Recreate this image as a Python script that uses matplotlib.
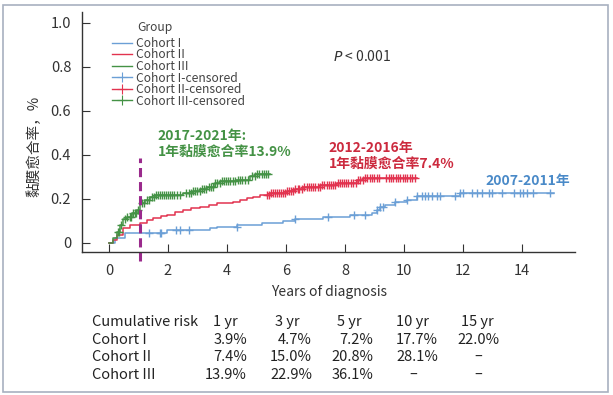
import numpy as np
import matplotlib
matplotlib.use('Agg')
import matplotlib.pyplot as plt
from matplotlib.lines import Line2D
from matplotlib.patches import Rectangle

plt.rcParams['font.family'] = ['Noto Sans CJK SC', 'DejaVu Sans']

# step curves: event times (years) and cumulative healing rate after each step
t_I = [0, 0.2, 0.55, 1.98, 3.43, 3.67, 4.35, 5.2, 5.9, 6.3, 7.26, 8.18, 8.93,
       9.1, 9.2, 9.37, 9.7, 10.1, 10.45, 11.9, 15.1]
v_I = [0, 0.02, 0.045, 0.058, 0.067, 0.073, 0.080, 0.091, 0.099, 0.106, 0.118,
       0.126, 0.135, 0.150, 0.160, 0.172, 0.186, 0.194, 0.212, 0.227, 0.227]

t_II = [0, 0.15, 0.28, 0.48, 0.72, 1.06, 1.3, 1.5, 1.75, 1.98, 2.25, 2.52, 2.8,
        3.1, 3.4, 3.67, 4.21, 4.45, 4.69, 4.9, 5.13, 5.47, 6.04, 6.3, 6.59,
        7.16, 7.74, 8.42, 8.62, 10.45]
v_II = [0, 0.012, 0.035, 0.067, 0.080, 0.091, 0.102, 0.112, 0.119, 0.126, 0.138,
        0.149, 0.156, 0.164, 0.171, 0.179, 0.186, 0.194, 0.202, 0.209, 0.217,
        0.227, 0.236, 0.244, 0.252, 0.262, 0.273, 0.285, 0.293, 0.293]

t_III = [0, 0.15, 0.28, 0.38, 0.48, 0.62, 0.79, 0.96, 1.06, 1.23, 1.4, 1.57,
         2.52, 2.86, 3.1, 3.33, 3.6, 3.77, 4.3, 4.79, 4.96, 5.47]
v_III = [0, 0.021, 0.05, 0.08, 0.108, 0.118, 0.135, 0.149, 0.180, 0.194, 0.209,
         0.217, 0.227, 0.236, 0.245, 0.255, 0.270, 0.280, 0.285, 0.303, 0.312, 0.312]

# censoring times (years)
cens_I = [1.37, 1.72, 1.77, 2.28, 2.42, 2.73, 4.34, 6.32, 7.43, 8.32, 8.69, 9.1,
          9.2, 9.3, 9.7, 10.1, 10.46, 10.61, 10.72, 10.83, 10.95, 11.12, 11.23,
          11.74, 11.91, 12.02, 12.31, 12.47, 12.64, 12.87, 12.98, 13.32, 13.72,
          13.94, 14.05, 14.17, 14.39, 14.96]
cens_II = [5.35, 5.42, 5.50, 5.56, 5.62, 5.70, 5.76, 5.82, 5.90, 5.96, 6.04, 6.10,
           6.18, 6.25, 6.32, 6.40, 6.46, 6.54, 6.62, 6.70, 6.78, 6.85, 6.92, 7.00,
           7.08, 7.15, 7.22, 7.30, 7.38, 7.45, 7.52, 7.60, 7.68, 7.75, 7.82, 7.90,
           7.98, 8.05, 8.12, 8.20, 8.28, 8.36, 8.44, 8.52, 8.60, 8.68, 8.76, 8.84,
           8.92, 9.00, 9.08, 9.15, 9.40, 9.48, 9.56, 9.64, 9.72, 9.80, 9.88, 9.96,
           10.04, 10.12, 10.20, 10.28, 10.36]
cens_III = [0.30, 0.36, 0.42, 0.55, 0.62, 0.70, 0.75, 0.82, 0.88, 0.93, 1.00, 1.12,
            1.20, 1.30, 1.36, 1.45, 1.52, 1.60, 1.66, 1.72, 1.80, 1.86, 1.93, 2.00,
            2.08, 2.15, 2.22, 2.30, 2.40, 2.62, 2.70, 2.78, 2.86, 2.92, 3.00, 3.08,
            3.15, 3.22, 3.30, 3.38, 3.45, 3.52, 3.60, 3.68, 3.75, 3.82, 3.90, 3.98,
            4.05, 4.12, 4.20, 4.28, 4.36, 4.44, 4.52, 4.60, 4.70, 4.85, 4.95, 5.02,
            5.10, 5.18, 5.25, 5.32, 5.40]

# cumulative risk table
risk_cols = ['1 yr', '3 yr', '5 yr', '10 yr', '15 yr']
risk_rows = ['Cohort I', 'Cohort II', 'Cohort III']
risk_vals = [['3.9%', '4.7%', '7.2%', '17.7%', '22.0%'],
             ['7.4%', '15.0%', '20.8%', '28.1%', '–'],
             ['13.9%', '22.9%', '36.1%', '–', '–']]

c_blue = '#6b9fd6'
c_red = '#e2334f'
c_green = '#449245'
c_purple = '#9a2a8c'
txt = '#333333'


def step_value(times, vals, x):
    idx = np.searchsorted(times, x, side='right') - 1
    return np.array(vals)[idx]


fig = plt.figure(figsize=(6.13, 3.95), dpi=100)
ax = fig.add_axes([0.1343, 0.3628, 0.8037, 0.6076])

cohorts = [(t_I, v_I, cens_I, c_blue), (t_II, v_II, cens_II, c_red),
           (t_III, v_III, cens_III, c_green)]
for t, v, cens, col in cohorts:
    ax.step(t, v, where='post', color=col, lw=1.1)
    ax.plot(cens, step_value(t, v, cens), ls='none', marker='+', ms=5.5,
            mew=1.0, color=col)

# 1 year marker
ax.plot([1.05, 1.05], [-0.085, 0.385], color=c_purple, lw=2.2, ls=(0, (3, 1.6)),
        clip_on=False)

ax.set_xlim(-0.9, 15.8)
ax.set_ylim(-0.041, 1.05)
ax.set_xticks(range(0, 15, 2))
ax.set_yticks([0, 0.2, 0.4, 0.6, 0.8, 1.0])
ax.set_yticklabels(['0', '0.2', '0.4', '0.6', '0.8', '1.0'])
ax.tick_params(direction='in', length=6, width=0.8, labelsize=10.5,
               colors='#333333', pad=8)
ax.tick_params(axis='x', pad=9)
for s in ['top', 'right']:
    ax.spines[s].set_visible(False)
for s in ['left', 'bottom']:
    ax.spines[s].set_color('#333333')
    ax.spines[s].set_linewidth(1.0)

ax.set_xlabel('Years of diagnosis', fontsize=10, color=txt, labelpad=5)
ax.set_ylabel('黏膜愈合率，%', fontsize=10.5, color=txt)
ax.yaxis.set_label_coords(-0.083, 0.44)

handles = [Line2D([], [], color=c_blue, lw=1),
           Line2D([], [], color=c_red, lw=1),
           Line2D([], [], color=c_green, lw=1),
           Line2D([], [], color=c_blue, lw=1, marker='+', ms=7, mew=0.8),
           Line2D([], [], color=c_red, lw=1, marker='+', ms=7, mew=0.8),
           Line2D([], [], color=c_green, lw=1, marker='+', ms=7, mew=0.8)]
labels = ['Cohort I', 'Cohort II', 'Cohort III', 'Cohort I-censored',
          'Cohort II-censored', 'Cohort III-censored']
leg = ax.legend(handles, labels, loc='upper left',
                bbox_to_anchor=(0.051, 0.915), frameon=False, fontsize=8.7,
                labelspacing=-0.12, handlelength=1.6,
                handletextpad=0.4, borderaxespad=0.0)
for tx in leg.get_texts():
    tx.set_color('#444444')
fig.text(137 / 613, 1 - 27 / 395, 'Group', fontsize=8.7, color='#444444',
         va='center', ha='left')

ax.text(7.6, 0.825, r'$\it{P}$ < 0.001', fontsize=10, color=txt)

ax.text(1.65, 0.395, '2017-2021年:\n1年黏膜愈合率13.9%', fontsize=10,
        fontweight='bold', color=c_green, linespacing=1.15)
ax.text(7.45, 0.34, '2012-2016年\n1年黏膜愈合率7.4%', fontsize=10,
        fontweight='bold', color='#cc2a3e', linespacing=1.15)
ax.text(12.75, 0.262, '2007-2011年', fontsize=10, fontweight='bold',
        color='#4a8ac8')

# table under the axis
W, H = 613.0, 395.0
col_ctr = [225, 287, 349, 412, 477]
val_right = [247, 312, 373, 438, 500]
row_y = [340, 357, 375]
fig.text(92 / W, 1 - 322 / H, 'Cumulative risk', fontsize=10.5, color='#222222',
         va='center', ha='left')
for j, c in enumerate(risk_cols):
    fig.text(col_ctr[j] / W, 1 - 322 / H, c, fontsize=10.5, color='#222222',
             va='center', ha='center')
for i, r in enumerate(risk_rows):
    fig.text(92 / W, 1 - row_y[i] / H, r, fontsize=10.5, color='#222222',
             va='center', ha='left')
    for j, val in enumerate(risk_vals[i]):
        if val == '–':
            fig.text((col_ctr[j] + 1) / W, 1 - row_y[i] / H, val, fontsize=10.5,
                     color='#222222', va='center', ha='center')
        else:
            fig.text(val_right[j] / W, 1 - row_y[i] / H, val, fontsize=10.5,
                     color='#222222', va='center', ha='right')

fig.patches.append(Rectangle((3 / W, 3 / H), 1 - 8 / W, 1 - 8 / H,
                             transform=fig.transFigure, fill=False,
                             edgecolor='#a8b0c0', lw=1.2))

fig.savefig('out.png', dpi=100)
